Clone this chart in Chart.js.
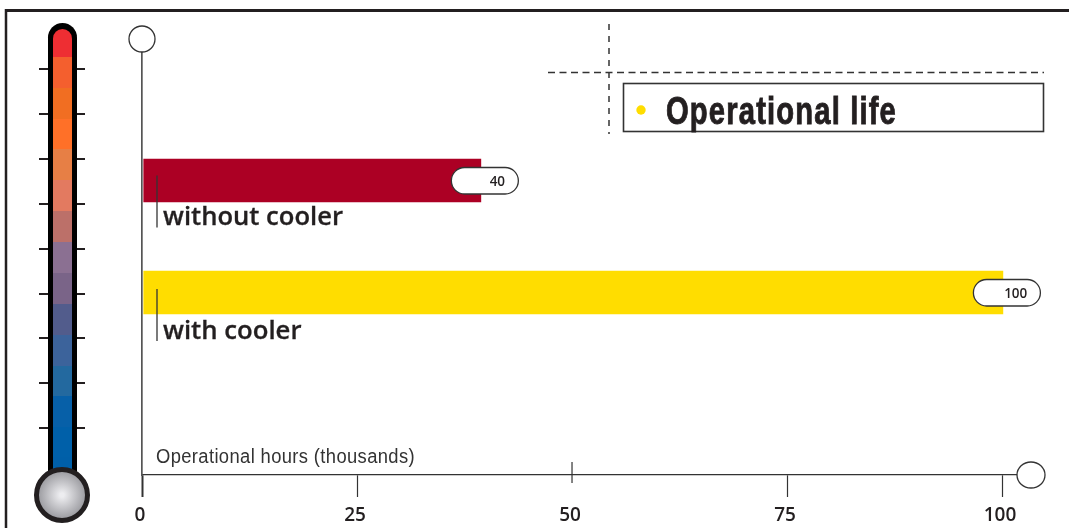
<!DOCTYPE html>
<html><head><meta charset="utf-8">
<style>html,body{margin:0;padding:0;background:#fff}#w{width:1069px;height:528px;position:relative}canvas{display:block}</style>
<script src="https://cdn.jsdelivr.net/npm/chart.js@4"></script>
</head><body><div id="w"><canvas id="c" width="1069" height="528"></canvas></div>
<script>
const categories = ['without cooler', 'with cooler'];
const drawnHours = [39.4, 100.1];
const printedValues = ['40', '100'];
const categoryIndex = [0, 1];
const barColors = ['#AC0024', '#FFDD00'];
const tickValues = [0, 25, 50, 75, 100];
const axisTitle = 'Operational hours (thousands)';
const chartTitle = 'Operational life';
const thermoColors = ['#EE2E33','#F45F2E','#F16E22','#FF7028','#E77F45','#E37A60','#BC7069','#8B7092','#7A6488','#525C8C','#3C639B','#23699F','#0760A8','#0060A9','#005FA8'];
const thermoStops = [29,57,88,119,149,180,211,242,273,304,335,366,396,427,457,475];
const thermoTicks = [69,114,159,204,249,294,338,383,428];

const INK = '#231F20';
function rr(ctx,x0,y0,x1,y1,r){ctx.beginPath();ctx.roundRect(x0,y0,x1-x0,y1-y0,r);}
function line(ctx,x0,y0,x1,y1,w,col,dash){ctx.save();ctx.strokeStyle=col||INK;ctx.lineWidth=w;ctx.setLineDash(dash||[]);ctx.beginPath();ctx.moveTo(x0,y0);ctx.lineTo(x1,y1);ctx.stroke();ctx.restore();}
function text(ctx,s,x,y,font,ls,align){ctx.save();ctx.font=font;ctx.fillStyle=INK;ctx.letterSpacing=ls||'0px';ctx.textAlign=align||'left';ctx.textBaseline='alphabetic';ctx.fillText(s,x,y);ctx.restore();}
function fitText(ctx,s,x,y,font,width,ls,col,heavy){ctx.save();ctx.font=font;ctx.letterSpacing=ls||'0px';ctx.fillStyle=col||INK;ctx.textAlign='left';ctx.textBaseline='alphabetic';const m=ctx.measureText(s).width;ctx.translate(x,y);ctx.scale(width/m,1);ctx.fillText(s,0,0);if(heavy){ctx.strokeStyle=col||INK;ctx.lineWidth=heavy;ctx.strokeText(s,0,0);}ctx.restore();}

const decor = {
  id:'decor',
  beforeDraw(chart){
    const ctx=chart.ctx;
    ctx.save();
    ctx.fillStyle='#fff';ctx.fillRect(0,0,1069,528);
    line(ctx,5,10.5,1069,10.5,3);line(ctx,6,9,6,528,2.5);
    thermoTicks.forEach(y=>{line(ctx,39,y,48,y,2);line(ctx,77,y,85,y,2);});
    ctx.fillStyle='#000';rr(ctx,48,23,77,490,14.5);ctx.fill();
    ctx.save();rr(ctx,53,29,72,490,9.5);ctx.clip();
    thermoColors.forEach((c,i)=>{ctx.fillStyle=c;ctx.fillRect(53,thermoStops[i],19,thermoStops[i+1]-thermoStops[i]+(i==14?20:0));});
    ctx.restore();
    const g=ctx.createRadialGradient(62,495,2,62,495,25);g.addColorStop(0,'#EDEDF0');g.addColorStop(1,'#97979C');
    ctx.fillStyle=g;ctx.strokeStyle=INK;ctx.lineWidth=5;ctx.beginPath();ctx.arc(62,495,25.5,0,Math.PI*2);ctx.fill();ctx.stroke();
    line(ctx,548,72.5,1044,72.5,1.3,'#333',[7,4.5]);
    line(ctx,609,24,609,134,1.5,'#333',[6,6]);
    ctx.strokeStyle='#333';ctx.lineWidth=1.6;ctx.strokeRect(623.5,83.5,420,48);
    ctx.fillStyle='#FFDD00';ctx.beginPath();ctx.arc(641,110,4.7,0,Math.PI*2);ctx.fill();
    fitText(ctx,chartTitle,666,123.5,'bold 38px "Liberation Sans"',231,'1.5px',INK,0.9);
    ctx.restore();
  },
  afterDraw(chart){
    const ctx=chart.ctx,x=chart.scales.x,y=chart.scales.y,a=chart.chartArea;
    ctx.save();
    ctx.strokeStyle='#333';ctx.lineWidth=1.3;ctx.fillStyle='#fff';
    ctx.beginPath();ctx.arc(x.getPixelForValue(0),a.top-13,13,0,Math.PI*2);ctx.fill();ctx.stroke();
    ctx.beginPath();ctx.ellipse(a.right+14,a.bottom,14,13,0,0,Math.PI*2);ctx.fill();ctx.stroke();
    const p50=x.getPixelForValue(50);
    line(ctx,p50,a.bottom-13,p50,a.bottom+8,1.2,'#333');
    fitText(ctx,axisTitle,156,463,'20px "Liberation Sans"',259,'0.4px','#333');
    const bars=chart.getDatasetMeta(0).data;
    bars.forEach((b,i)=>{
      const c=b.y;
      const dy=i===1?1.5:0;
      ctx.fillStyle='#fff';ctx.strokeStyle='#333';ctx.lineWidth=1.3;
      rr(ctx,b.x-29.5,c-13,b.x+37.5,c+13.5,13.2);ctx.fill();ctx.stroke();
      text(ctx,printedValues[i],b.x+24,c+5.5,'600 13.5px "Open Sans"','-0.2px','right');
      const x0=x.getPixelForValue(0)+15;
      line(ctx,x0,c-5+dy,x0,c+47+dy,1.3,'#333');
      fitText(ctx,categories[i],x0+6,c+45+dy,'600 25.5px "Open Sans"',i===0?180:138.5,'0px',INK,0.3);
    });
    ctx.restore();
  }
};

new Chart(document.getElementById('c'),{
  type:'bar',
  data:{labels:categories,datasets:[{
    label:chartTitle,
    data:categoryIndex.map((v,i)=>({x:drawnHours[i],y:v})),
    backgroundColor:barColors,base:0.2,barThickness:43,borderWidth:0
  }]},
  plugins:[decor],
  options:{
    indexAxis:'y',responsive:false,animation:false,
    layout:{padding:{left:142,right:52,top:52,bottom:0}},
    plugins:{legend:{display:false},tooltip:{enabled:false}},
    scales:{
      x:{type:'linear',position:'bottom',min:0,max:101.74,
        afterFit(s){s.height=53;},
        afterBuildTicks(s){s.ticks=tickValues.map(v=>({value:v}));},
        border:{color:'#333',width:1.3},
        grid:{drawOnChartArea:false,drawTicks:true,tickLength:22,
          tickWidth:c=>c.tick&&c.tick.value===0?2:1.2,
          tickColor:c=>c.tick&&c.tick.value===50?'rgba(0,0,0,0)':'#333'},
        ticks:{includeBounds:false,padding:7,maxRotation:0,autoSkip:false,labelOffset:-2,color:INK,
          font:{family:'"Open Sans"',size:19,weight:'600'}}},
      y:{type:'linear',position:'left',reverse:true,offset:false,min:-1.147,max:2.629,
        afterFit(s){s.width=0;},
        border:{color:'#555',width:1.7},
        grid:{display:true,drawOnChartArea:false,drawTicks:false},
        ticks:{display:false}}
    }
  }
});
</script></body></html>
